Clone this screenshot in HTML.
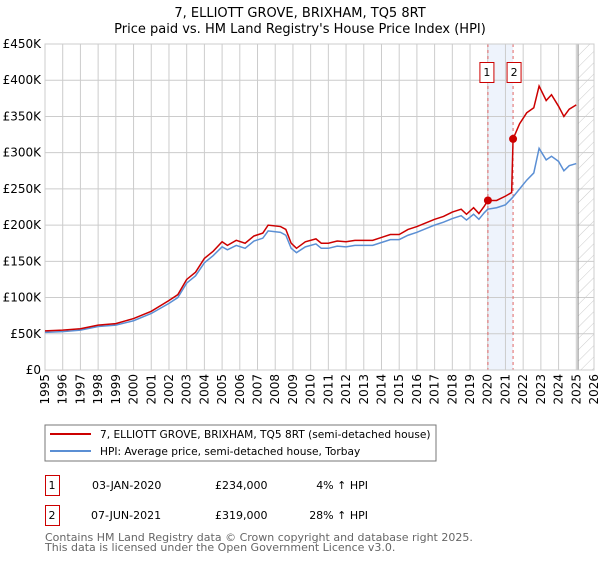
<!DOCTYPE html>
<html><head><meta charset="utf-8"><style>
body{margin:0;background:#fff;font-family:"DejaVu Sans","Liberation Sans",sans-serif;}
svg text{font-family:"DejaVu Sans","Liberation Sans",sans-serif;}
</style></head><body>
<svg id="chart" width="600" height="560" xmlns="http://www.w3.org/2000/svg">
<defs><pattern id="hatch" width="8" height="8" patternUnits="userSpaceOnUse" patternTransform="rotate(45)"><line x1="0" y1="0" x2="0" y2="8" stroke="#ccc" stroke-width="1"/></pattern></defs>
<text x="300" y="17" text-anchor="middle" font-size="13">7, ELLIOTT GROVE, BRIXHAM, TQ5 8RT</text>
<text x="300" y="33" text-anchor="middle" font-size="13">Price paid vs. HM Land Registry's House Price Index (HPI)</text>
<g id="grid"></g><g id="marks"></g><g id="axes"></g>
<rect x="45" y="425" width="391" height="36" fill="#fff" stroke="#777"/>
<line x1="50" y1="434" x2="91" y2="434" stroke="#cc0000" stroke-width="2"/>
<text x="100" y="438" font-size="10.6">7, ELLIOTT GROVE, BRIXHAM, TQ5 8RT (semi-detached house)</text>
<line x1="50" y1="451" x2="91" y2="451" stroke="#5b8fd4" stroke-width="2"/>
<text x="100" y="455" font-size="10.6">HPI: Average price, semi-detached house, Torbay</text>
<g>
<rect x="45.5" y="475.5" width="14" height="20" fill="none" stroke="#cc0000"/>
<text x="52" y="489" text-anchor="middle" font-size="11">1</text>
<text x="92" y="489" font-size="11">03-JAN-2020</text>
<text x="215" y="489" font-size="11">£234,000</text>
<text x="368" y="489" text-anchor="end" font-size="11">4% ↑ HPI</text></g>
<g>
<rect x="45.5" y="505.5" width="14" height="20" fill="none" stroke="#cc0000"/>
<text x="52" y="519" text-anchor="middle" font-size="11">2</text>
<text x="91" y="519" font-size="11">07-JUN-2021</text>
<text x="215" y="519" font-size="11">£319,000</text>
<text x="368" y="519" text-anchor="end" font-size="11">28% ↑ HPI</text></g>
<text x="45" y="541" font-size="11" fill="#666">Contains HM Land Registry data © Crown copyright and database right 2025.</text>
<text x="45" y="551" font-size="11" fill="#666">This data is licensed under the Open Government Licence v3.0.</text>
</svg>
<script>
const hpiYears=[1995,1996,1997,1998,1999,2000,2001,2002,2002.5,2003,2003.5,2004,2004.5,2005,2005.3,2005.8,2006.3,2006.8,2007.3,2007.6,2008.3,2008.6,2008.9,2009.2,2009.7,2010.3,2010.6,2011,2011.5,2012,2012.5,2013,2013.5,2014,2014.5,2015,2015.5,2016,2016.5,2017,2017.5,2018,2018.5,2018.8,2019.2,2019.5,2019.8,2020,2020.5,2021,2021.4,2021.8,2022.2,2022.6,2022.9,2023.3,2023.6,2024,2024.3,2024.6,2025];
const hpiValues=[52,53,55,60,62,68,78,92,100,120,130,148,158,170,166,172,168,178,182,192,190,186,168,162,170,174,168,168,171,170,172,172,172,176,180,180,186,190,195,200,204,209,213,207,215,208,217,222,224,228,238,250,262,272,306,290,295,288,275,282,285];
const propYears=[1995,1996,1997,1998,1999,2000,2001,2002,2002.5,2003,2003.5,2004,2004.5,2005,2005.3,2005.8,2006.3,2006.8,2007.3,2007.6,2008.3,2008.6,2008.9,2009.2,2009.7,2010.3,2010.6,2011,2011.5,2012,2012.5,2013,2013.5,2014,2014.5,2015,2015.5,2016,2016.5,2017,2017.5,2018,2018.5,2018.8,2019.2,2019.5,2019.8,2020.01,2020.5,2021,2021.35,2021.43,2021.8,2022.2,2022.6,2022.9,2023.3,2023.6,2024,2024.3,2024.6,2025];
const propValues=[54,55,57,62,64,71,81,96,104,125,135,154,164,177,172,179,175,185,189,200,198,194,175,168,177,181,175,175,178,177,179,179,179,183,187,187,194,198,203,208,212,218,222,215,224,216,226,234,234,240,245,319,340,355,362,392,372,380,364,350,360,366];
const saleYears=[2020.01,2021.43];
const salePrices=[234,319];
const saleLabels=["1","2"];
const yTicks=[0,50,100,150,200,250,300,350,400,450];
const yTickLabels=["£0","£50K","£100K","£150K","£200K","£250K","£300K","£350K","£400K","£450K"];
const xTicks=[1995,1996,1997,1998,1999,2000,2001,2002,2003,2004,2005,2006,2007,2008,2009,2010,2011,2012,2013,2014,2015,2016,2017,2018,2019,2020,2021,2022,2023,2024,2025,2026];

const NS="http://www.w3.org/2000/svg";
const L=45,R=594,T=44,B=370,x0=1995,x1=2026,yMax=450;
const X=v=>L+(v-x0)/(x1-x0)*(R-L);
const Y=v=>B-v/yMax*(B-T);
function mk(tag,attrs,parent){const e=document.createElementNS(NS,tag);for(const k in attrs)e.setAttribute(k,attrs[k]);parent.appendChild(e);return e;}
const grid=document.getElementById('grid'),marks=document.getElementById('marks'),axes=document.getElementById('axes');
let band=mk('rect',{x:X(saleYears[0]),y:T,width:X(saleYears[1])-X(saleYears[0]),height:B-T,fill:'#eef3fc'},grid);


let hat=mk('rect',{x:X(2025.1),y:T,width:R-X(2025.1),height:B-T,fill:'url(#hatch)'},grid);


yTicks.forEach((t,i)=>{
  let g=mk('line',{x1:L,x2:R,y1:Y(t),y2:Y(t),stroke:'#ccc'},grid);
  
  
  let tx=mk('text',{x:L-4,y:Y(t)+4,'text-anchor':'end','font-size':'12'},axes);
  tx.textContent=yTickLabels[i];
  
  
});
xTicks.forEach(t=>{
  let g=mk('line',{x1:X(t),x2:X(t),y1:T,y2:B,stroke:'#ccc'},grid);
  
  
  let tx=mk('text',{x:0,y:0,'text-anchor':'end','font-size':'12',transform:`translate(${X(t)+4},${B+4}) rotate(-90)`},axes);
  tx.textContent=t;
  
  
});
let vline=mk('line',{x1:X(2025.1),x2:X(2025.1),y1:T,y2:B,stroke:'#888'},grid);


saleYears.forEach((s,i)=>{
  let d=mk('line',{x1:X(s),x2:X(s),y1:T,y2:B,stroke:'#e06666','stroke-dasharray':'3,3'},grid);
  
  
  let bx=mk('rect',{x:X(s)-(i==0?8:6),y:62.5,width:14,height:20,fill:'#fff',stroke:'#cc0000'},marks);
  
  
  let tx=mk('text',{x:X(s)-(i==0?1:-1),y:76,'text-anchor':'middle','font-size':'11'},marks);
  tx.textContent=saleLabels[i];
  
  
});
mk('rect',{x:L,y:T,width:R-L,height:B-T,fill:'none',stroke:'#ccc'},grid);
let hp=mk('polyline',{points:hpiYears.map((y,i)=>X(y)+','+Y(hpiValues[i])).join(' '),fill:'none',stroke:'#5b8fd4','stroke-width':'1.5'},marks);


let pp=mk('polyline',{points:propYears.map((y,i)=>X(y)+','+Y(propValues[i])).join(' '),fill:'none',stroke:'#cc0000','stroke-width':'1.5'},marks);


saleYears.forEach((s,i)=>{
  let c=mk('circle',{cx:X(s),cy:Y(salePrices[i]),r:4,fill:'#cc0000'},marks);
  
  
});
</script>
</body></html>
